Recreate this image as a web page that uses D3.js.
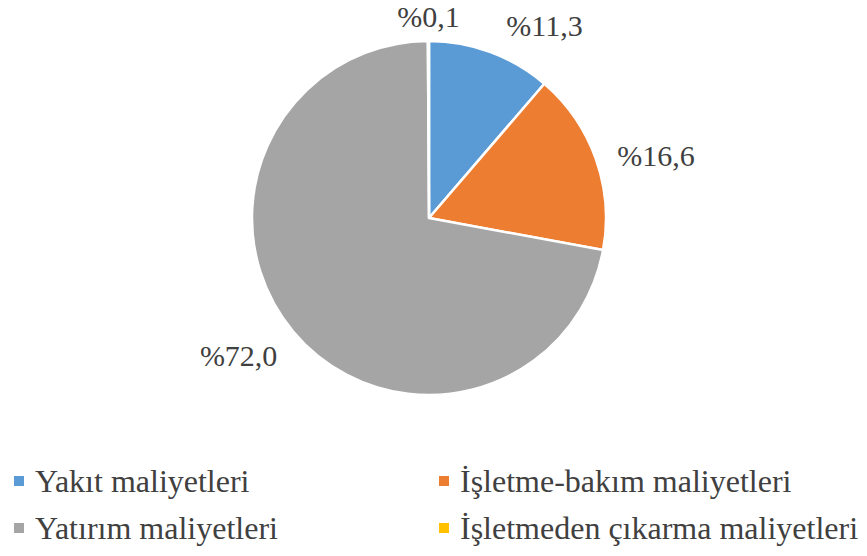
<html>
<head>
<style>
  body { margin: 0; background: white }
</style>
</head>
<body>
<script src="https://d3js.org/d3.v7.min.js"></script>
<script>

var categories = ["Yakıt maliyetleri", "İşletme-bakım maliyetleri", "Yatırım maliyetleri", "İşletmeden çıkarma maliyetleri"];
var values = [11.3, 16.6, 72.0, 0.1];
var labels = ["%11,3", "%16,6", "%72,0", "%0,1"];
var colors = ["#5b9bd5", "#ed7d31", "#a5a5a5", "#ffc000"];

var width = 867, height = 556,
    cx = 429, cy = 218, radius = 177,
    font = "'Liberation Serif'";

var svg = d3.select("body").append("svg")
  .attr("width", width)
  .attr("height", height);

var pie = d3.pie().sort(null).value(function(d) { return d; });
var arc = d3.arc().innerRadius(0).outerRadius(radius);

var arcs = pie(values);

var g = svg.append("g").attr("transform", "translate(" + cx + "," + cy + ")");

g.selectAll("path").data(arcs).enter()
  .append("path")
    .attr("d", arc)
    .attr("fill", function(d, i) { return colors[i]; })
    .attr("stroke", "white")
    .attr("stroke-width", 2.5)
    .attr("stroke-linejoin", "round");

// labels sit outside the pie, nudged like excel's "best fit"
var labelRadius = [1.13, 1.27, 1.16, 1.12];
var labelShift = [[46, -5], [15, 12], [-33, 6], [0, -3]];

g.selectAll("text.lbl").data(arcs).enter()
  .append("text")
    .attr("class", "lbl")
    .attr("text-anchor", "middle")
    .style("font-family", font)
    .style("font-size", "30px")
    .style("fill", "#404040")
    .attr("dy", "0.35em")
    .attr("x", function(d, i) {
      var a = (d.startAngle + d.endAngle) / 2;
      return Math.sin(a) * radius * labelRadius[i] + labelShift[i][0];
    })
    .attr("y", function(d, i) {
      var a = (d.startAngle + d.endAngle) / 2;
      return -Math.cos(a) * radius * labelRadius[i] + labelShift[i][1];
    })
    .text(function(d, i) { return labels[i]; });

// legend, two columns
var legend = svg.append("g").selectAll("g").data(categories).enter()
  .append("g")
    .attr("transform", function(d, i) {
      return "translate(" + (i % 2 == 0 ? 14 : 439) + "," + (i < 2 ? 481 : 528) + ")";
    });

legend.append("rect")
  .attr("x", 0).attr("y", -5)
  .attr("width", 10).attr("height", 10)
  .attr("fill", function(d, i) { return colors[i]; });

legend.append("text")
  .attr("x", 21)
  .attr("dy", "0.35em")
  .style("font-family", font)
  .style("font-size", "32px")
  .style("fill", "#404040")
  .text(function(d) { return d; });

</script>
</body>
</html>
